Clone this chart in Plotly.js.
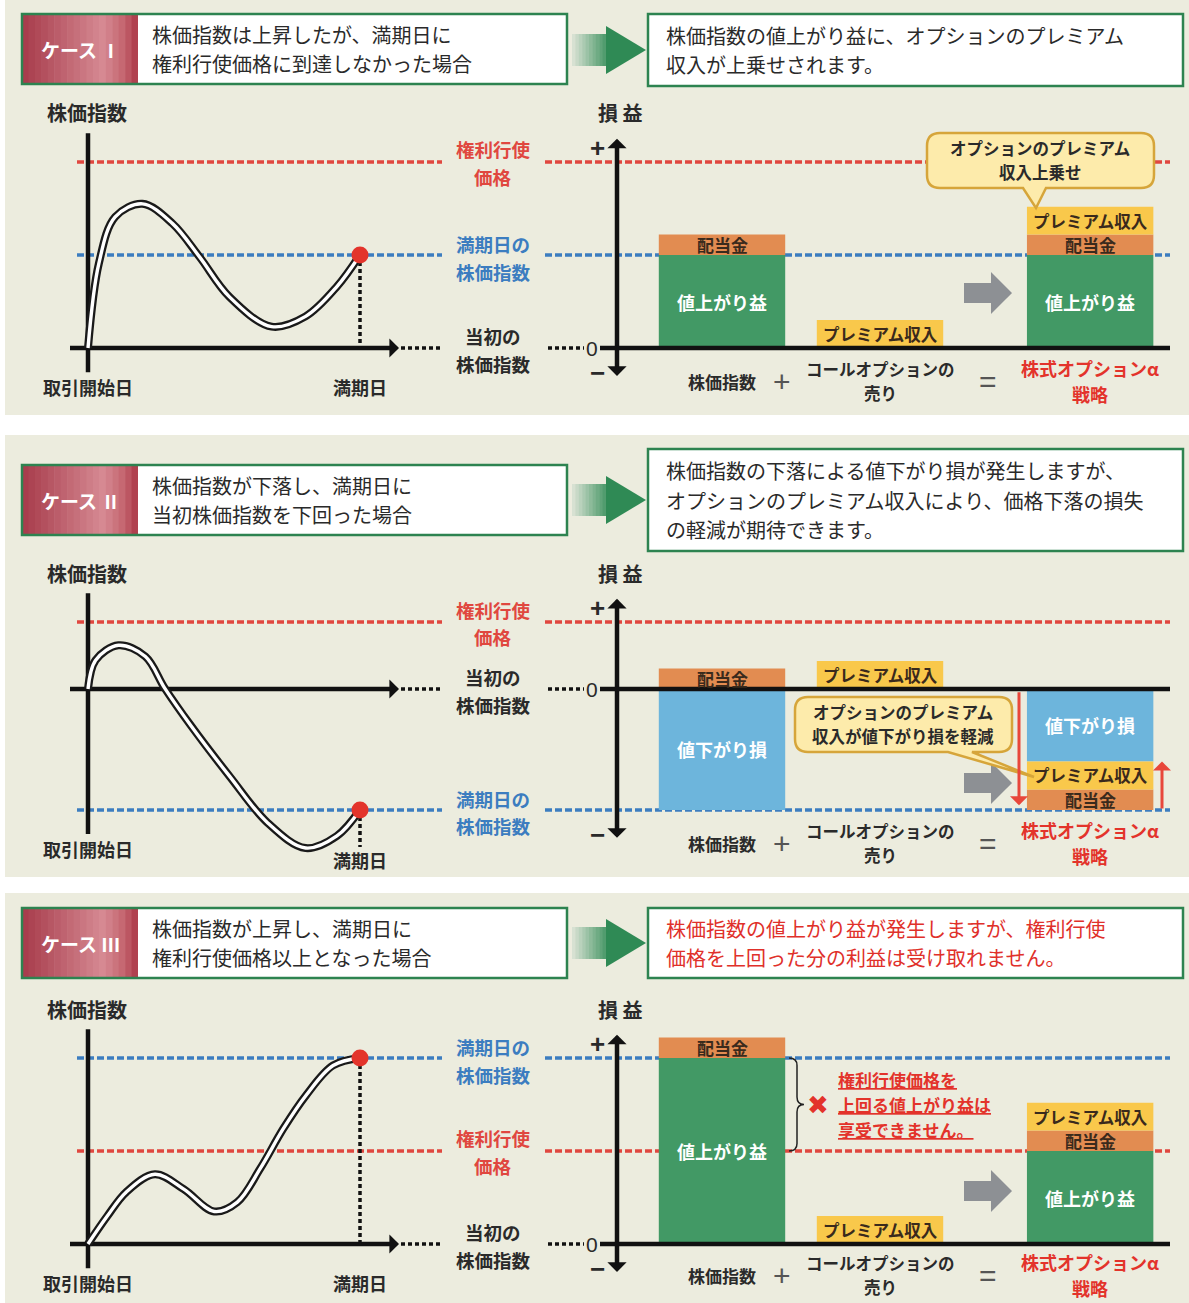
<!DOCTYPE html>
<html lang="ja">
<head>
<meta charset="utf-8">
<script src="https://cdn.plot.ly/plotly-3.0.1.min.js"></script>
<style>
html,body{margin:0;padding:0;background:#ffffff;}
#chart{width:1189px;height:1303px;}
</style>
</head>
<body>
<div id="chart"></div>
<script>
// ================= DATA =================
const caseLabels = ['ケース Ⅰ', 'ケース Ⅱ', 'ケース Ⅲ'];
const caseConditions = [
  ['株価指数は上昇したが、満期日に', '権利行使価格に到達しなかった場合'],
  ['株価指数が下落し、満期日に', '当初株価指数を下回った場合'],
  ['株価指数が上昇し、満期日に', '権利行使価格以上となった場合']
];
const caseResults = [
  ['株価指数の値上がり益に、オプションのプレミアム', '収入が上乗せされます。'],
  ['株価指数の下落による値下がり損が発生しますが、', 'オプションのプレミアム収入により、価格下落の損失', 'の軽減が期待できます。'],
  ['株価指数の値上がり益が発生しますが、権利行使', '価格を上回った分の利益は受け取れません。']
];
const categories = [['株価指数'], ['コールオプションの', '売り'], ['株式オプションα', '戦略']];
const timeLabels = ['取引開始日', '満期日'];
const strikeLabel = ['権利行使', '価格'];
const finalLabel = ['満期日の', '株価指数'];
const initialLabel = ['当初の', '株価指数'];
const gainLabel = '値上がり益';
const lossLabel = '値下がり損';
const dividendLabel = '配当金';
const premiumLabel = 'プレミアム収入';
const callout1Text = ['オプションのプレミアム', '収入上乗せ'];
const callout2Text = ['オプションのプレミアム', '収入が値下がり損を軽減'];
const note3Text = ['権利行使価格を', '上回る値上がり益は', '享受できません。'];

// values (index units; initial index = 0)
const dividend = 2.2;
const premium = 3.0;

// Case I
const c1Time  = [0, 4, 10, 20, 31, 41, 52, 67.5, 80, 91.5, 100];
const c1Index = [0, 9.1, 14.1, 15.5, 13.4, 9.8, 5.5, 2.3, 3.4, 6.6, 10];
const c1Strike = 20;
const c1Final = 10;

// Case II
const c2Time  = [0, 2.8, 11.2, 21.1, 28.2, 38, 52.1, 66.1, 80, 91.5, 100];
const c2Index = [0, 3.1, 4.7, 3.5, 0.1, -4.0, -9.4, -14.4, -17.1, -15.8, -13];
const c2Strike = 7.2;
const c2Final = -13;

// Case III
const c3Time  = [0, 7.1, 14.1, 24.6, 35.2, 46.4, 54.9, 63.3, 71.8, 80.2, 90.1, 100];
const c3Index = [0, 3.0, 5.6, 7.5, 5.9, 3.5, 4.5, 8.1, 12.4, 16.0, 19.2, 20];
const c3Strike = 10;
const c3Final = 20;

// ================= LAYOUT HELPERS =================
const W = 1189, H = 1303;
const FONT = '"Noto Sans CJK JP", "Noto Sans", "DejaVu Sans", sans-serif';
const LATIN = '"Liberation Sans", "DejaVu Sans", sans-serif';
const px = x => x / W, py = y => 1 - y / H;
const S = 9.3;     // px per index unit
const XS = 2.72;   // px per time unit
const BS = 158;    // px per bar slot
const T0 = 88, B0 = 722;
const barSlots = [0, 1, 2.33];
const barWidth = 0.8;

const RED = '#e0473f', BLUE = '#3c7dc0', DARK = '#2a2a2a';
const segColors = {gain:'#429965', loss:'#6db5dc', div:'#e28c51', prem:'#f9c84b'};
const segText = {gain:'#ffffff', loss:'#ffffff', div:'#3a2a1c', prem:'#3a2a1c'};
const segLabel = {gain:gainLabel, loss:lossLabel, div:dividendLabel, prem:premiumLabel};

const shapes = [], annotations = [], traces = [];

function rect(x0, y0, x1, y1, fill, lineColor, lw, layer) {
  shapes.push({type:'rect', xref:'paper', yref:'paper', x0:px(x0), x1:px(x1), y0:py(y1), y1:py(y0),
    fillcolor:fill, line:{color:lineColor || 'rgba(0,0,0,0)', width:lw || 0}, layer:layer || 'above'});
}
function pathPx(cmds, fill, lineColor, lw, layer) {
  const d = cmds.map(c => {
    const nums = c.slice(1), parts = [];
    for (let k = 0; k < nums.length; k += 2) parts.push(px(nums[k]).toFixed(5) + ',' + py(nums[k + 1]).toFixed(5));
    return c[0] + parts.join(' ');
  }).join(' ');
  shapes.push({type:'path', xref:'paper', yref:'paper', path:d, fillcolor:fill || 'rgba(0,0,0,0)',
    line:{color:lineColor || 'rgba(0,0,0,0)', width:lw || 0}, layer:layer || 'above'});
}
function txt(x, y, text, size, color, opts) {
  annotations.push(Object.assign({xref:'paper', yref:'paper', x:px(x), y:py(y), text:text, showarrow:false,
    xanchor:'center', yanchor:'middle', font:{family:FONT, size:size, color:color}}, opts || {}));
}
// stacked lines as separate texts; pitch large enough that line boxes do not overlap
function stack(arr, x, yc, size, color, opts, bold, wrap) {
  const n = arr.length, pitch = size * 1.46;
  arr.forEach((s, j) => {
    let v = wrap ? wrap[0] + s + wrap[1] : s;
    if (bold) v = '<b>' + v + '</b>';
    txt(x, yc + (j - (n - 1) / 2) * pitch, v, size, color, opts);
  });
}
function lerp(a, b, t) { return a.map((v, k) => Math.round(v + (b[k] - v) * t)); }
function grad(stops, t) {
  for (let k = 0; k < stops.length - 1; k++) {
    const [t0, c0] = stops[k], [t1, c1] = stops[k + 1];
    if (t <= t1) return 'rgb(' + lerp(c0, c1, (t - t0) / (t1 - t0)).join(',') + ')';
  }
  return 'rgb(' + stops[stops.length - 1][1].join(',') + ')';
}
function callout(x0, y0, x1, y1, r, ta, tb, tx, ty) {
  pathPx([['M', x0 + r, y0], ['L', x1 - r, y0], ['Q', x1, y0, x1, y0 + r], ['L', x1, y1 - r], ['Q', x1, y1, x1 - r, y1],
    ['L', tb, y1], ['L', tx, ty], ['L', ta, y1], ['L', x0 + r, y1], ['Q', x0, y1, x0, y1 - r], ['L', x0, y0 + r],
    ['Q', x0, y0, x0 + r, y0], ['Z']], '#fdebab', '#d6a53a', 2.5, 'above');
}
function grayArrow(cy) {
  pathPx([['M', 964, cy - 10], ['L', 991, cy - 10], ['L', 991, cy - 21], ['L', 1012, cy], ['L', 991, cy + 21],
    ['L', 991, cy + 10], ['L', 964, cy + 10], ['Z']], '#8d9094', null, 0, 'above');
}

function segmentsFor(final, strike) {
  const s = [];
  if (final >= 0) { s.push({slot:0, base:0, h:final, kind:'gain'}); s.push({slot:0, base:final, h:dividend, kind:'div'}); }
  else { s.push({slot:0, base:0, h:final, kind:'loss'}); s.push({slot:0, base:0, h:dividend, kind:'div'}); }
  s.push({slot:1, base:0, h:premium, kind:'prem'});
  const kept = Math.min(final, strike);
  if (kept >= 0) {
    s.push({slot:2, base:0, h:kept, kind:'gain'});
    s.push({slot:2, base:kept, h:dividend, kind:'div'});
    s.push({slot:2, base:kept + dividend, h:premium, kind:'prem'});
  } else {
    const net = kept + dividend + premium;
    s.push({slot:2, base:0, h:net, kind:'loss'});
    s.push({slot:2, base:net, h:-premium, kind:'prem'});
    s.push({slot:2, base:net - premium, h:-dividend, kind:'div'});
  }
  return s;
}

const cases = [
  {time:c1Time, index:c1Index, strike:c1Strike, final:c1Final},
  {time:c2Time, index:c2Index, strike:c2Strike, final:c2Final},
  {time:c3Time, index:c3Index, strike:c3Strike, final:c3Final}
];
const rowGeom = [
  {zero:348,  dom:[95, 412],   panel:[0, 415],    hdr:[14, 84],   res:[14, 86],   top:112,  bottom:381,  arrowY:293},
  {zero:689,  dom:[555, 875],  panel:[435, 877],  hdr:[465, 535], res:[449, 551], top:573,  bottom:843,  arrowY:783},
  {zero:1244, dom:[995, 1300], panel:[893, 1303], hdr:[908, 978], res:[908, 978], top:1009, bottom:1275, arrowY:1191}
];
const resultColors = [DARK, DARK, '#e0302a'];

const layout = {
  width:W, height:H, margin:{l:0, r:0, t:0, b:0}, paper_bgcolor:'#ffffff', plot_bgcolor:'rgba(0,0,0,0)',
  showlegend:false, barmode:'overlay', hovermode:false, font:{family:FONT}
};

cases.forEach((c, i) => {
  const g = rowGeom[i];
  const yId = i ? 'y' + (i + 1) : 'y';
  const xl = i ? 'x' + (2 * i + 1) : 'x';
  const xr = 'x' + (2 * i + 2);
  const yp = v => g.zero - v * S;
  const xk = id => 'xaxis' + id.slice(1);
  layout[i ? 'yaxis' + (i + 1) : 'yaxis'] = {domain:[py(g.dom[1]), py(g.dom[0])],
    range:[(g.zero - g.dom[1]) / S, (g.zero - g.dom[0]) / S], visible:false, anchor:xl, fixedrange:true};
  layout[xk(xl)] = {domain:[px(5), px(590)], range:[(5 - T0) / XS, (590 - T0) / XS], visible:false, anchor:yId, fixedrange:true};
  layout[xk(xr)] = {domain:[px(590), px(1185)], range:[(590 - B0) / BS, (1185 - B0) / BS], visible:false, anchor:yId, fixedrange:true};

  // panel background
  rect(5, g.panel[0], 1189, g.panel[1], '#ececde', null, 0, 'below');

  // ---- header ----
  const [h0, h1] = g.hdr, hm = (h0 + h1) / 2;
  rect(22, h0, 567, h1, '#ffffff', null, 0);
  const NS = 18, redStops = [[0, [166, 58, 74]], [0.7, [214, 138, 147]], [0.88, [196, 100, 110]], [1, [170, 55, 70]]];
  for (let k = 0; k < NS; k++) {
    const a = 22 + (116 * k) / NS, b = 22 + (116 * (k + 1)) / NS + 0.6;
    rect(a, h0, Math.min(b, 138), h1, grad(redStops, (k + 0.5) / NS));
  }
  rect(22, h0, 567, h1, 'rgba(0,0,0,0)', '#2d8350', 2.5);
  txt(80, hm, '<b>' + caseLabels[i] + '</b>', 19, '#ffffff');
  stack(caseConditions[i], 150, hm, 20, DARK, {xanchor:'left'});

  // green arrow
  const [r0, r1] = g.res, rm = (r0 + r1) / 2;
  const greenStops = [[0, [222, 229, 216]], [1, [74, 152, 104]]];
  for (let k = 0; k < 10; k++) {
    const a = 572 + 3.4 * k, b = 572 + 3.4 * (k + 1) + 0.5;
    rect(a, rm - 16, Math.min(b, 607), rm + 16, grad(greenStops, (k + 0.5) / 10));
  }
  pathPx([['M', 606, rm - 24], ['L', 646, rm], ['L', 606, rm + 24], ['Z']], '#2f8a55', null, 0, 'above');

  // result box
  rect(648, r0, 1183, r1, '#ffffff', '#2d8350', 2.5);
  stack(caseResults[i], 664, rm, 20, resultColors[i], {xanchor:'left'});

  // ---- common levels ----
  const top = Math.max(c.strike, c.final), bot = Math.min(0, c.final);
  [[c.strike, RED], [c.final, BLUE]].forEach(([v, col]) => {
    [[77, 442], [545, 1170]].forEach(([a, b]) => shapes.push({type:'line', xref:'paper', yref:yId,
      x0:px(a), x1:px(b), y0:v, y1:v, line:{color:col, width:3.5, dash:'7px,3px'}, layer:'below'}));
  });
  stack(strikeLabel, 493, yp(c.strike) + 1, 18.5, RED, {}, true);
  stack(finalLabel, 493, yp(c.final) + 3, 18.5, BLUE, {}, true);
  stack(initialLabel, 493, yp(0) + 2, 18.5, DARK, {}, true);

  // ---- left chart (stock index path) ----
  const tEnd = c.time[c.time.length - 1];
  shapes.push({type:'line', xref:xl, yref:yId, x0:0, x1:0, y0:bot - 2.6, y1:top + 3.1, line:{color:'#111', width:4.5}, layer:'below'});
  shapes.push({type:'line', xref:xl, yref:yId, x0:(70 - T0) / XS, x1:(390 - T0) / XS, y0:0, y1:0, line:{color:'#111', width:4.5}, layer:'below'});
  annotations.push({xref:xl, yref:yId, axref:xl, ayref:yId, x:(399 - T0) / XS, y:0, ax:(385 - T0) / XS, ay:0,
    text:'', showarrow:true, arrowhead:1, arrowsize:0.8, arrowwidth:4, arrowcolor:'#111'});
  shapes.push({type:'line', xref:'paper', yref:yId, x0:px(401), x1:px(440), y0:0, y1:0, line:{color:'#111', width:3.5, dash:'4px,3px'}, layer:'below'});
  shapes.push({type:'line', xref:'paper', yref:yId, x0:px(548), x1:px(584), y0:0, y1:0, line:{color:'#111', width:3.5, dash:'4px,3px'}, layer:'below'});
  txt(592, yp(0), '0', 21, DARK, {font:{family:LATIN, size:21, color:DARK}});

  const dEnd = c.final > 0 ? 0 : c.final - 4;
  shapes.push({type:'line', xref:xl, yref:yId, x0:tEnd, x1:tEnd, y0:c.final, y1:dEnd, line:{color:'#111', width:3.5, dash:'4px,3px'}, layer:'below'});

  traces.push({type:'scatter', mode:'lines', x:c.time, y:c.index, xaxis:xl, yaxis:yId, hoverinfo:'skip',
    line:{color:'#1a1a1a', width:8, shape:'spline', smoothing:1}});
  traces.push({type:'scatter', mode:'lines', x:c.time, y:c.index, xaxis:xl, yaxis:yId, hoverinfo:'skip',
    line:{color:'#ffffff', width:3.4, shape:'spline', smoothing:1}});
  traces.push({type:'scatter', mode:'markers', x:[tEnd], y:[c.final], xaxis:xl, yaxis:yId, hoverinfo:'skip',
    marker:{size:17, color:'#e3342b'}});

  txt(87, g.top, '<b>株価指数</b>', 20, DARK);
  const timeY = yp(bot - 2.6) + 15;
  annotations.push({xref:xl, yref:'paper', x:0, y:py(timeY), text:'<b>' + timeLabels[0] + '</b>', showarrow:false,
    font:{family:FONT, size:18, color:DARK}, yanchor:'middle'});
  annotations.push({xref:xl, yref:'paper', x:tEnd, y:py(Math.max(timeY, yp(dEnd) + 13)), text:'<b>' + timeLabels[1] + '</b>', showarrow:false,
    font:{family:FONT, size:18, color:DARK}, yanchor:'middle'});

  // ---- right chart (profit / loss) ----
  const xa = (617 - B0) / BS;
  const rTop = top + 2.5, rBot = bot - 3.0;
  shapes.push({type:'line', xref:xr, yref:yId, x0:xa, x1:xa, y0:rBot + 0.8, y1:rTop - 0.8, line:{color:'#111', width:4.5}, layer:'above'});
  annotations.push({xref:xr, yref:yId, axref:xr, ayref:yId, x:xa, y:rTop, ax:xa, ay:rTop - 1.5, text:'', showarrow:true,
    arrowhead:1, arrowsize:0.8, arrowwidth:4, arrowcolor:'#111'});
  annotations.push({xref:xr, yref:yId, axref:xr, ayref:yId, x:xa, y:rBot, ax:xa, ay:rBot + 1.5, text:'', showarrow:true,
    arrowhead:1, arrowsize:0.8, arrowwidth:4, arrowcolor:'#111'});
  txt(597, yp(rTop) + 9, '<b>+</b>', 26, DARK, {font:{family:LATIN, size:26, color:DARK}});
  txt(597, yp(rBot) - 3, '<b>−</b>', 26, DARK, {font:{family:LATIN, size:26, color:DARK}});
  txt(621, g.top, '<b>損 益</b>', 20, DARK);

  const segs = segmentsFor(c.final, c.strike);
  ['gain', 'loss', 'div', 'prem'].forEach(kind => {
    const ss = segs.filter(s => s.kind === kind);
    if (!ss.length) return;
    traces.push({type:'bar', xaxis:xr, yaxis:yId, x:ss.map(s => barSlots[s.slot]), base:ss.map(s => s.base),
      y:ss.map(s => s.h), width:barWidth, marker:{color:segColors[kind], line:{width:0}}, opacity:1, hoverinfo:'skip'});
    ss.forEach(s => annotations.push({xref:xr, yref:yId, x:barSlots[s.slot], y:s.base + s.h / 2,
      text:'<b>' + segLabel[kind] + '</b>', showarrow:false, yanchor:'middle',
      font:{family:FONT, size:(kind === 'gain' || kind === 'loss') ? 18 : (kind === 'div' ? 17 : 16.5), color:segText[kind]}}));
  });

  shapes.push({type:'line', xref:xr, yref:yId, x0:(600 - B0) / BS, x1:(1170 - B0) / BS, y0:0, y1:0, line:{color:'#111', width:4.5}, layer:'above'});
  grayArrow(g.arrowY);

  // bottom category labels
  const catColor = [DARK, DARK, '#e3332b'];
  const catSize = [17, 16.5, 18];
  categories.forEach((ls, k) => {
    const n = ls.length, pitch = catSize[k] * 1.46;
    ls.forEach((t, j) => annotations.push({xref:xr, yref:'paper', x:barSlots[k], y:py(g.bottom + (j - (n - 1) / 2) * pitch),
      text:'<b>' + t + '</b>', showarrow:false, yanchor:'middle', font:{family:FONT, size:catSize[k], color:catColor[k]}}));
  });
  txt(782, g.bottom, '+', 30, '#555', {font:{family:LATIN, size:30, color:'#555'}});
  txt(988, g.bottom, '=', 30, '#555', {font:{family:LATIN, size:30, color:'#555'}});

  // ---- case-specific annotations ----
  if (i === 0) {
    callout(927, 133, 1154, 188, 13, 1023, 1046, 1036, 208);
    stack(callout1Text, 1040, 160, 16.5, DARK, {}, true);
  }
  if (i === 1) {
    callout(795, 697, 1012, 752, 13, 948, 972, 1034, 777);
    stack(callout2Text, 903, 724, 16.5, DARK, {}, true);
    const netTop = c.final + premium + dividend;
    annotations.push({xref:xr, yref:yId, axref:xr, ayref:yId, x:(1019 - B0) / BS, y:c.final + 0.5, ax:(1019 - B0) / BS, ay:-0.2,
      text:'', showarrow:true, arrowhead:1, arrowsize:1, arrowwidth:3, arrowcolor:'#e8473b'});
    annotations.push({xref:xr, yref:yId, axref:xr, ayref:yId, x:(1162 - B0) / BS, y:netTop, ax:(1162 - B0) / BS, ay:c.final,
      text:'', showarrow:true, arrowhead:1, arrowsize:1, arrowwidth:3, arrowcolor:'#e8473b'});
  }
  if (i === 2) {
    const bx0 = (789 - B0) / BS, bx1 = (797 - B0) / BS, bx2 = (804 - B0) / BS;
    const yt = c.final, yb = c.strike, ym = (yt + yb) / 2, rr = 0.8;
    const path = `M${bx0},${yt} Q${bx1},${yt} ${bx1},${yt - rr} L${bx1},${ym + rr} Q${bx1},${ym} ${bx2},${ym} ` +
      `Q${bx1},${ym} ${bx1},${ym - rr} L${bx1},${yb + rr} Q${bx1},${yb} ${bx0},${yb}`;
    shapes.push({type:'path', xref:xr, yref:yId, path:path, fillcolor:'rgba(0,0,0,0)', line:{color:'#222', width:1.5}, layer:'above'});
    txt(818, yp(ym), '<b>✖</b>', 26, '#e3332b', {font:{family:'"DejaVu Sans", sans-serif', size:26, color:'#e3332b'}});
    stack(note3Text, 836, yp(ym), 17, '#e3332b', {xanchor:'left'}, true, ['<u>', '</u>']);
  }
});

layout.shapes = shapes;
layout.annotations = annotations;
Plotly.newPlot('chart', traces, layout, {staticPlot:true, displayModeBar:false});
</script>
</body>
</html>
